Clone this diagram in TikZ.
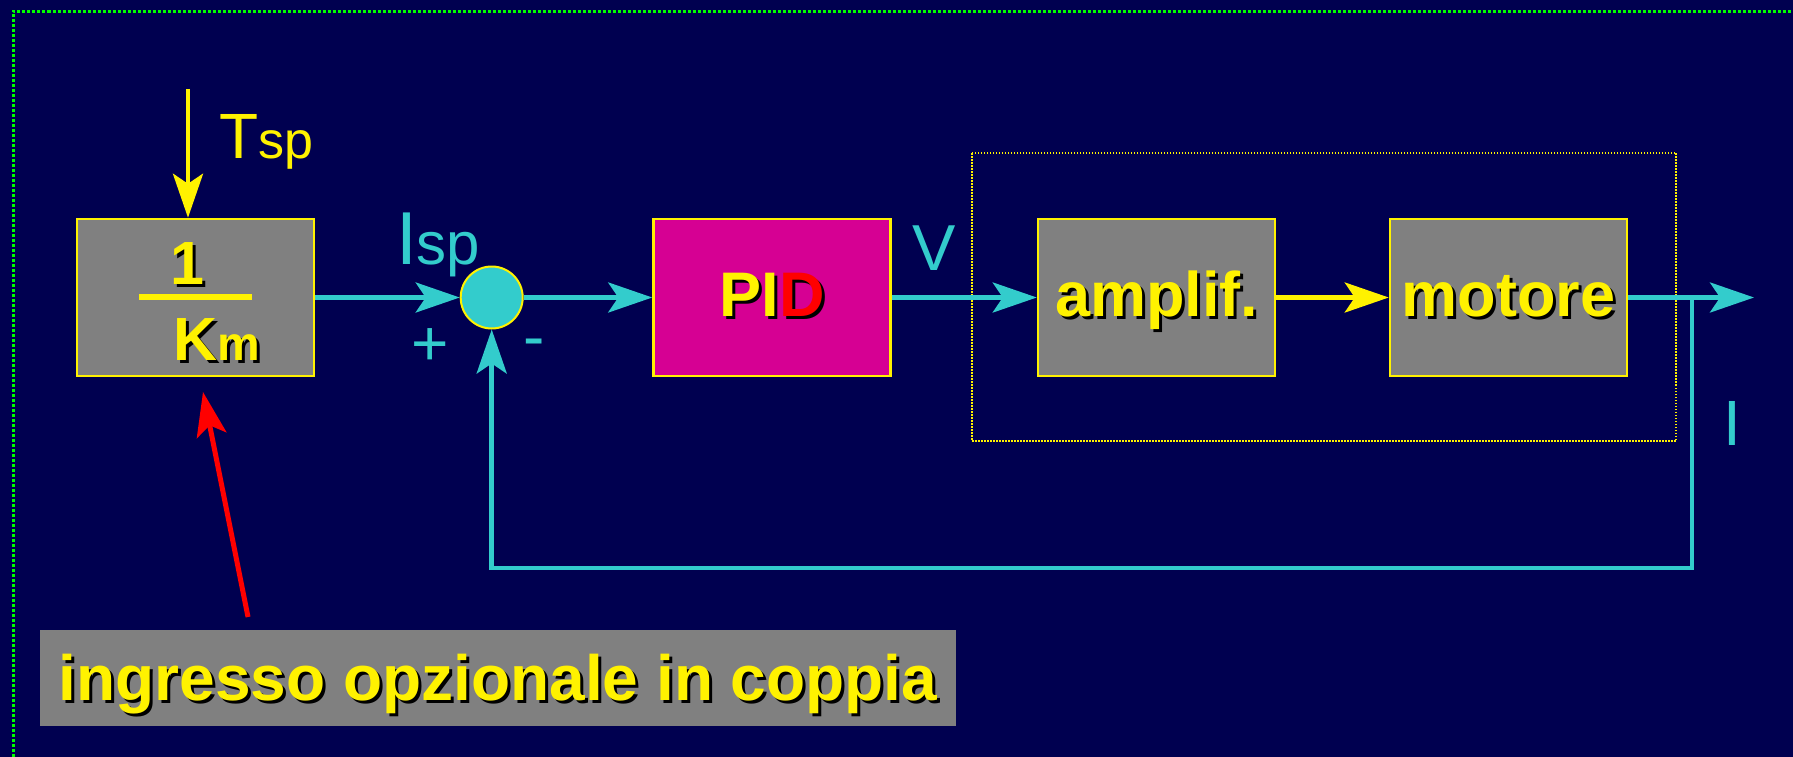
\documentclass[tikz,border=0pt]{standalone}
\usepackage{fontspec}
\setmainfont{Liberation Sans}
\usetikzlibrary{arrows.meta}
\definecolor{bgc}{HTML}{000050}
\definecolor{cy}{HTML}{33CCCC}
\definecolor{gr}{HTML}{808080}
\definecolor{mag}{HTML}{D60093}
\definecolor{grn}{HTML}{00FF00}
\newcommand\shtxt[2]{\leavevmode\rlap{\hspace{3pt}\raisebox{-3pt}{\color{black}#1}}#2}
\newcommand\shd[1]{\shtxt{#1}{#1}}
\newcommand\fs[1]{\fontsize{#1}{#1}\selectfont}
\begin{document}
\begin{tikzpicture}[x=1pt,y=-1pt,
  blk/.style={draw=yellow, line width=2.5pt, fill=gr, minimum width=237pt, minimum height=157pt, inner sep=0pt, text=yellow, font=\fs{63}\bfseries, text height=45pt, text depth=8pt},
  cyl/.style={draw=cy, line width=4.5pt},
  ylw/.style={draw=yellow, line width=4.5pt},
  tip/.style={-{Stealth[length=44pt,width=30pt,inset=10pt]}},
  lbl/.style={inner sep=0pt, outer sep=0pt},
]
\fill[bgc] (0,0) rectangle (1793,757);
\useasboundingbox (0,0) rectangle (1793,757);
\draw[grn, line width=3pt, dash pattern=on 3pt off 2pt] (13,757) -- (13,11.5) -- (1793,11.5);
\draw[yellow, line width=1.5pt, dash pattern=on 1.5pt off 1.5pt] (972,153) rectangle (1676,441);

\node[blk] (km) at (195.5,297.5) {};
\node[blk, fill=mag] (pid) at (772,297.5) {\shtxt{PID}{PI\textcolor{red}{D}}};
\node[blk] (amp) at (1156.5,297.5) {\shd{amplif.}};
\node[blk] (mot) at (1508.5,297.5) {\shd{motore}};
\node[circle, draw=yellow, line width=2pt, fill=cy, minimum size=62pt, inner sep=0pt] (sum) at (491.7,297.5) {};

\node[lbl, text=yellow, font=\fs{61}\bfseries, anchor=base] (one) at (187,284) {\shd{1}};
\draw[yellow, line width=6pt] (139,297) -- (252,297);
\node[lbl, text=yellow, anchor=base west] (kmt) at (173,360) {\shd{{\fs{61}\bfseries K}{\fs{48}\bfseries m}}};

\node[lbl, text=yellow, anchor=base west] (tsp) at (219,158) {\fs{64}T\fs{52}sp};
\node[lbl, text=cy, anchor=base west] (isp) at (396,264) {\fs{75}I\fs{60}sp};
\node[lbl, text=cy, anchor=base west] (vl) at (912,270) {\fs{65}V};
\node[lbl, text=cy, font=\fs{64}] (plus) at (430.3,347.3) {+};
\node[lbl, text=cy, font=\fs{64}] (minus) at (534,348.5) {-};
\node[lbl, text=cy, font=\fs{64}] (iout) at (1732.5,423) {I};

\node[fill=gr, minimum width=916pt, minimum height=96pt, inner sep=0pt, text=yellow, font=\fs{64}\bfseries, text height=45pt, text depth=1pt] (note) at (498,678) {\shd{ingresso opzionale in coppia}};

\coordinate (tsptop) at (188,89);
\coordinate (out) at (1754,297.5);
\coordinate (split) at (1692,297.5);
\coordinate (fbr) at (1692,568);
\coordinate (rstart) at (248,617);
\coordinate (rtip) at (203,392);

\draw[ylw,tip] (tsptop) -- (tsptop |- km.north);
\draw[cyl,tip] (km.east) -- (sum.west);
\draw[cyl,tip] (sum.east) -- (pid.west);
\draw[cyl,tip] (pid.east) -- (amp.west);
\draw[ylw,tip] (amp.east) -- (mot.west);
\draw[cyl,tip] (mot.east) -- (out);
\draw[cyl,tip] (split) -- (fbr) -| (sum.south);
\draw[red, line width=5pt, tip] (rstart) -- (rtip);
\end{tikzpicture}
\end{document}
